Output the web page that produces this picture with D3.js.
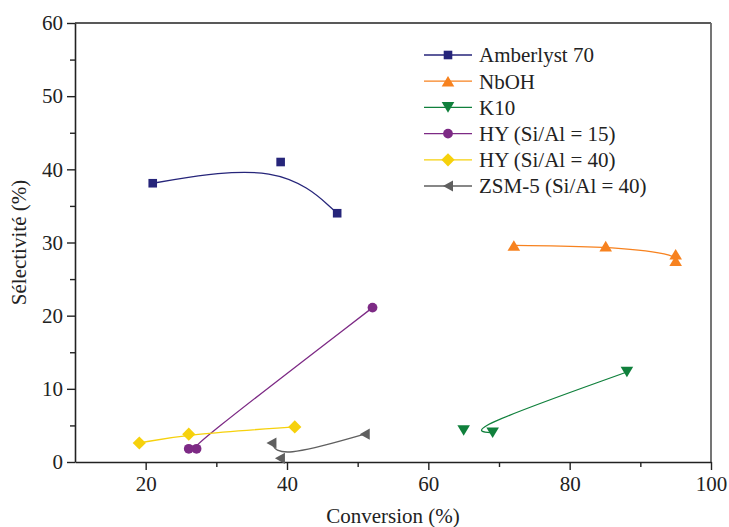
<!DOCTYPE html>
<html>
<head>
<meta charset="utf-8">
<script src="https://cdn.jsdelivr.net/npm/d3@7"></script>
<style>
  html, body { margin: 0; padding: 0; background: #ffffff; }
  svg { display: block; }
  text { font-family: "Liberation Serif", "Times New Roman", serif; fill: #222; }
</style>
</head>
<body>
<svg id="chart" width="729" height="527"></svg>
<script>
// ---- Data ----
const seriesNames = ["Amberlyst 70", "NbOH", "K10", "HY (Si/Al = 15)", "HY (Si/Al = 40)", "ZSM-5 (Si/Al = 40)"];
const seriesColors = ["#26257a", "#f7821f", "#10803c", "#7d2a85", "#f6d10c", "#5f5f5f"];
const seriesMarkers = ["square", "triangleUp", "triangleDown", "circle", "diamond", "triangleLeft"];

const amberlystX = [21.0, 39.1, 47.1];
const amberlystY = [38.1, 41.0, 34.0];
const nbohX = [72.1, 85.1, 95.0, 95.0];
const nbohY = [29.6, 29.5, 28.4, 27.5];
const k10X = [69.1, 65.0, 88.1];
const k10Y = [4.0, 4.3, 12.3];
const hy15X = [27.2, 26.1, 52.1];
const hy15Y = [1.8, 1.8, 21.1];
const hy40X = [19.1, 26.1, 41.1];
const hy40Y = [2.6, 3.8, 4.8];
const zsmX = [37.8, 39.0, 51.0];
const zsmY = [2.6, 0.5, 3.8];

const xMajorTicks = [20, 40, 60, 80, 100];
const xMinorTicks = [30, 50, 70, 90];
const yMajorTicks = [0, 10, 20, 30, 40, 50, 60];
const yMinorTicks = [5, 15, 25, 35, 45, 55];

const xTitle = "Conversion (%)";
const yTitle = "Sélectivité (%)";

// ---- Layout ----
const svg = d3.select("#chart");
const plotL = 75, plotR = 711, plotT = 23, plotB = 462;

const x = d3.scaleLinear().domain([10, 100]).range([plotL, plotR]);
const y = d3.scaleLinear().domain([0, 60]).range([plotB, plotT]);

const allX = [amberlystX, nbohX, k10X, hy15X, hy40X, zsmX];
const allY = [amberlystY, nbohY, k10Y, hy15Y, hy40Y, zsmY];

function markerPath(type) {
  switch (type) {
    case "square": { const s = 4.3; return `M${-s},${-s}H${s}V${s}H${-s}Z`; }
    case "triangleUp": { const w = 6.3, h = 5.3; return `M0,${-h}L${w},${h}L${-w},${h}Z`; }
    case "triangleDown": { const w = 6.3, h = 5.3; return `M0,${h}L${w},${-h}L${-w},${-h}Z`; }
    case "triangleLeft": { const w = 5.0, h = 5.6; return `M${-w},0L${w},${-h}L${w},${h}Z`; }
    case "diamond": { const d = 6.6; return `M0,${-d}L${d},0L0,${d}L${-d},0Z`; }
    case "circle": { const r = 4.9; return `M${r},0A${r},${r} 0 1,1 ${-r},0A${r},${r} 0 1,1 ${r},0Z`; }
  }
}

// ---- Frame ----
const axisColor = "#222";
svg.append("line").attr("x1", plotL).attr("x2", plotR).attr("y1", plotT).attr("y2", plotT)
  .attr("stroke", axisColor).attr("stroke-width", 1.6);
svg.append("line").attr("x1", plotR).attr("x2", plotR).attr("y1", plotT).attr("y2", plotB)
  .attr("stroke", "#666").attr("stroke-width", 1.8);

const xAxisG = svg.append("g").attr("transform", `translate(0,${plotB})`);
xAxisG.call(d3.axisBottom(x).tickValues(xMajorTicks).tickSize(8).tickSizeOuter(0).tickPadding(6).tickFormat(d3.format("d")));
const xMinorG = svg.append("g").attr("transform", `translate(0,${plotB})`);
xMinorG.call(d3.axisBottom(x).tickValues(xMinorTicks).tickSize(5).tickSizeOuter(0).tickFormat(""));
xMinorG.select(".domain").remove();

const yAxisG = svg.append("g").attr("transform", `translate(${plotL},0)`);
yAxisG.call(d3.axisLeft(y).tickValues(yMajorTicks).tickSize(8).tickSizeOuter(0).tickPadding(4).tickFormat(d3.format("d")));
const yMinorG = svg.append("g").attr("transform", `translate(${plotL},0)`);
yMinorG.call(d3.axisLeft(y).tickValues(yMinorTicks).tickSize(5).tickSizeOuter(0).tickFormat(""));
yMinorG.select(".domain").remove();

svg.selectAll(".domain").attr("stroke", axisColor).attr("stroke-width", 1.6);
svg.selectAll(".tick line").attr("stroke", axisColor).attr("stroke-width", 1.4);
svg.selectAll(".tick text").attr("font-family", "Liberation Serif, serif").attr("font-size", 21).attr("fill", "#222");

svg.append("text").attr("x", (plotL + plotR) / 2).attr("y", 523).attr("text-anchor", "middle")
  .attr("font-size", 21).text(xTitle);
svg.append("text").attr("transform", `translate(26,${(plotT + plotB) / 2}) rotate(-90)`)
  .attr("text-anchor", "middle").attr("font-size", 21).text(yTitle);

// ---- Series ----
const line = d3.line().x(d => x(d[0])).y(d => y(d[1])).curve(d3.curveBasis);
const plot = svg.append("g");
seriesNames.forEach((name, i) => {
  const pts = allX[i].map((v, j) => [v, allY[i][j]]);
  plot.append("path").attr("d", line(pts)).attr("fill", "none")
    .attr("stroke", seriesColors[i]).attr("stroke-width", 1.3);
  plot.selectAll(null).data(pts).enter().append("path")
    .attr("d", markerPath(seriesMarkers[i]))
    .attr("transform", d => `translate(${x(d[0])},${y(d[1])})`)
    .attr("fill", seriesColors[i]);
});

// ---- Legend ----
const legend = svg.append("g");
const legX1 = 424, legX2 = 472, legTextX = 479, legY0 = 55, legDy = 26.2;
seriesNames.forEach((name, i) => {
  const yy = legY0 + i * legDy;
  legend.append("line").attr("x1", legX1).attr("x2", legX2).attr("y1", yy).attr("y2", yy)
    .attr("stroke", seriesColors[i]).attr("stroke-width", 1.3);
  legend.append("path").attr("d", markerPath(seriesMarkers[i]))
    .attr("transform", `translate(${(legX1 + legX2) / 2},${yy})`).attr("fill", seriesColors[i]);
  legend.append("text").attr("x", legTextX).attr("y", yy).attr("dy", "0.35em")
    .attr("font-size", 21).text(name);
});
</script>
</body>
</html>
